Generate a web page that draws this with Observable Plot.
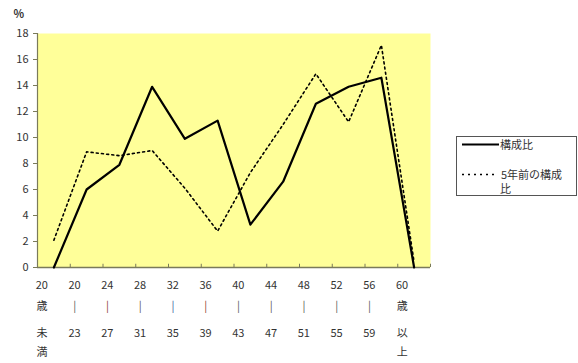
<!DOCTYPE html>
<html>
<head>
<meta charset="utf-8">
<script src="https://cdn.jsdelivr.net/npm/d3@7"></script>
<script src="https://cdn.jsdelivr.net/npm/@observablehq/plot@0.6"></script>
<style>
  html, body { margin: 0; padding: 0; background: #fff; }
  body { width: 578px; height: 363px; overflow: hidden; font-family: "Noto Sans CJK JP", "DejaVu Sans", sans-serif; }
</style>
</head>
<body>
<div id="chart"></div>
<script>
// Categories (age groups)
const categories = ["20歳未満","20-23","24-27","28-31","32-35","36-39","40-43","44-47","48-51","52-55","56-59","60歳以上"];
const topLabels = ["20","20","24","28","32","36","40","44","48","52","56","60"];
const midLabels = ["歳","|","|","|","|","|","|","|","|","|","|","歳"];
const midColors = ["#333","#555","#8a3a30","#555","#3a5a9a","#8a3a30","#555","#555","#555","#555","#555","#333"];
const botLabels = ["未\n満","23","27","31","35","39","43","47","51","55","59","以\n上"];
// Series
const current = [0, 6.0, 7.9, 13.9, 9.9, 11.3, 3.3, 6.6, 12.6, 13.9, 14.6, 0];
const fiveYearsAgo = [2.1, 8.9, 8.6, 9.0, 6.1, 2.8, 7.3, 11.0, 14.9, 11.2, 17.1, 0.4];
const yTicks = [0,2,4,6,8,10,12,14,16,18];
const seriesNames = ["構成比", "5年前の構成比"];

const rows1 = categories.map((c, i) => ({i: i + 0.5, v: current[i]}));
const rows2 = categories.map((c, i) => ({i: i + 0.5, v: fiveYearsAgo[i]}));
const idx = categories.map((c, i) => i);

const axisColor = "#7a7a5a";
const font = "\"Noto Sans CJK JP\", \"DejaVu Sans\", sans-serif";

const chart = Plot.plot({
  width: 578,
  height: 363,
  marginLeft: 37,
  marginRight: 148,
  marginTop: 33,
  marginBottom: 96,
  style: {fontFamily: font, fontSize: "11px", color: "#333", background: "#fff"},
  x: {domain: [0, categories.length], axis: null},
  y: {domain: [0, 18], axis: null},
  color: {type: "identity"},
  marks: [
    Plot.frame({fill: "#FFFF99", stroke: null}),
    Plot.ruleX(d3.range(categories.length + 1), {y1: 0, y2: 0.25, stroke: axisColor, strokeWidth: 1}),
    Plot.axisY({ticks: yTicks, tickSize: 4, tickPadding: 5, stroke: axisColor, fill: "#333", fontSize: 11, label: null}),
    Plot.ruleX([0], {stroke: axisColor, strokeWidth: 1.2}),
    Plot.ruleY([0], {stroke: axisColor, strokeWidth: 1.5}),
    Plot.line(rows2, {x: "i", y: "v", stroke: "#000", strokeWidth: 1.6, strokeDasharray: "2,3.2"}),
    Plot.line(rows1, {x: "i", y: "v", stroke: "#000", strokeWidth: 2.2}),
    Plot.text(idx, {x: i => i + 0.5, frameAnchor: "bottom", text: i => topLabels[i], dy: 21, dx: -12, fill: "#333", fontSize: 11}),
    Plot.text(idx, {x: i => i + 0.5, frameAnchor: "bottom", text: i => midLabels[i], dy: 42, dx: -12, fill: i => midColors[i], fontSize: 11}),
    Plot.text(idx, {x: i => i + 0.5, frameAnchor: "bottom", text: i => botLabels[i], dy: 55, dx: -12, lineAnchor: "top", fill: "#333", fontSize: 11, lineHeight: 1.8}),
    Plot.text(["%"], {frameAnchor: "top-left", dx: -24, dy: -23, text: d => d, fill: "#333", fontSize: 11, fontWeight: "bold"})
  ]
});

const svg = d3.select(chart);
// Legend
const lg = svg.append("g").attr("font-family", font).attr("font-size", 11).attr("fill", "#333").attr("text-anchor", "start");
lg.append("rect").attr("x", 456.5).attr("y", 136.5).attr("width", 120).attr("height", 59).attr("fill", "#fff").attr("stroke", "#555");
lg.append("line").attr("x1", 462).attr("x2", 499).attr("y1", 144.5).attr("y2", 144.5).attr("stroke", "#000").attr("stroke-width", 2);
lg.append("text").attr("x", 500).attr("y", 148.5).text(seriesNames[0]);
lg.append("line").attr("x1", 462).attr("x2", 495).attr("y1", 174.5).attr("y2", 174.5).attr("stroke", "#000").attr("stroke-width", 1.3).attr("stroke-dasharray", "2,4");
lg.append("text").attr("x", 501).attr("y", 178.5).text(seriesNames[1].slice(0, 6));
lg.append("text").attr("x", 500).attr("y", 193).text(seriesNames[1].slice(6));

document.getElementById("chart").appendChild(chart);
</script>
</body>
</html>
